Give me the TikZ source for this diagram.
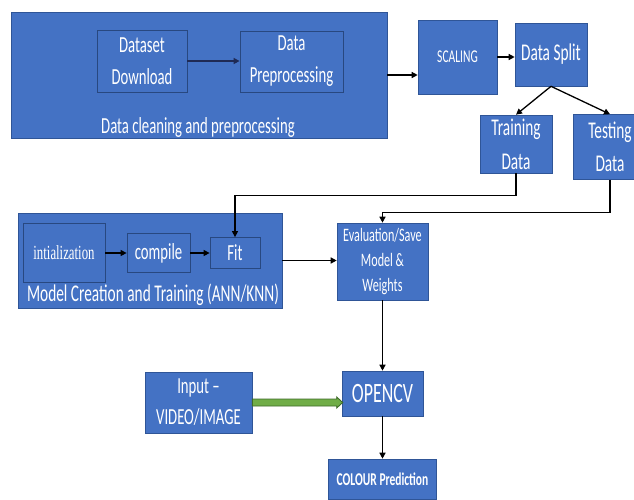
\documentclass[tikz,border=0pt]{standalone}
\usepackage{fontspec}
\setmainfont{Carlito}[FakeStretch=0.64]
\newfontfamily\tmsfont{Liberation Serif}[FakeStretch=0.64]
\usetikzlibrary{arrows.meta,calc}
\definecolor{boxblue}{HTML}{4472C4}
\definecolor{edgeblue}{HTML}{2F5597}
\definecolor{navy}{HTML}{1F2A55}
\definecolor{arrgreen}{HTML}{70AD47}
\definecolor{arrgreenedge}{HTML}{3F6B2A}
\begin{document}
\begin{tikzpicture}[x=1pt,y=-1pt,
  box/.style={fill=boxblue, draw=edgeblue, line width=0.6pt, text=white, inner sep=0pt, align=center},
  inbox/.style={box, draw=edgeblue!85!black, line width=0.8pt},
  fs/.style 2 args={font=\fontsize{#1}{#2}\selectfont},
  lbl/.style={text=white, inner sep=0pt},
  conn/.style={draw=black, line width=1.3pt, -{Triangle[length=6pt,width=6pt]}},
  navyconn/.style={draw=navy, line width=2pt, -{Triangle[length=6pt,width=6pt]}},
  greenarrow/.style={fill=arrgreen, draw=arrgreenedge, line width=0.9pt, line join=miter}
]
\useasboundingbox (0,0) rectangle (634,499);
\fill[white] (0,0) rectangle (634,499);

% Data cleaning group
\node[box, minimum width=376pt, minimum height=126pt] (g1) at (199,75) {};
\node[inbox, minimum width=90pt, minimum height=62pt, fs={23}{32}] (dd) at (142,61) {Dataset\\Download};
\node[inbox, minimum width=103pt, minimum height=61pt, fs={23}{32}] (dp) at (291.5,61.5) {\raisebox{-2pt}{Data}\\\raisebox{-2pt}{Preprocessing}};
\node[lbl, fs={23}{28}] (g1lbl) at (198,127) {Data cleaning and preprocessing};
\draw[navyconn] (dd.east) -- (dd.east -| dp.west);

% Scaling and split
\node[box, minimum width=79pt, minimum height=74pt, fs={18}{22}] (scl) at (457.5,57) {SCALING};
\draw[conn] (g1.east) -- (g1.east -| scl.west);
\node[box, minimum width=72pt, minimum height=63pt, fs={24}{30}] (ds) at (551,54.5) {Data Split};
\draw[conn] (scl.east) -- (scl.east -| ds.west);
\node[box, minimum width=72pt, minimum height=58pt, fs={24}{34}] (trn) at (516,144) {Training\\Data};
\node[box, minimum width=74pt, minimum height=65pt, fs={24}{33}] (tst) at (610,147) {Testing\\Data};
\draw[conn] (ds.south) -- (trn.north);
\draw[conn] (ds.south) -- (tst.north);

% Model group
\node[box, minimum width=264pt, minimum height=95pt] (g2) at (150,260.5) {};
\node[inbox, minimum width=82pt, minimum height=59pt, font={\tmsfont\fontsize{20}{24}\selectfont}] (ini) at (64,253) {intialization};
\node[inbox, minimum width=63pt, minimum height=39pt, fs={23}{28}] (cmp) at (158.5,253) {compile};
\node[inbox, minimum width=50pt, minimum height=31pt, fs={23}{28}] (fit) at (235,253) {Fit};
\node[lbl, fs={24}{28}] (g2lbl) at (153,295) {Model Creation and Training (ANN/KNN)};
\draw[conn] (ini) -- (cmp);
\draw[conn] (cmp) -- (fit);

% Evaluation
\node[box, minimum width=91pt, minimum height=77pt, fs={19}{25}] (ev) at (382.5,261.5) {Evaluation/Save\\Model \&\\Weights};
\draw[conn] (g2.east) -- (g2.east -| ev.west);
\draw[conn] (trn.south) -- ++(0,22) -| (fit.north);
\draw[conn] (tst.south) -- ++(0,33) -| (ev.north);

% OpenCV
\node[box, minimum width=81pt, minimum height=45pt, fs={28}{30}] (ocv) at (382.5,393.5) {OPENCV};
\draw[conn] (ev.south) -- (ocv.north);
\node[box, minimum width=107pt, minimum height=61pt, fs={23}{31}] (inp) at (198.5,402.5) {Input –\\VIDEO/IMAGE};
\draw[greenarrow] ($(inp.east)+(0,-3.5)$) -- ($(inp.east -| ocv.west)+(-5,-3.5)$) -- ($(inp.east -| ocv.west)+(-5,-5.5)$) -- ($(inp.east -| ocv.west)+(1,0)$) -- ($(inp.east -| ocv.west)+(-5,5.5)$) -- ($(inp.east -| ocv.west)+(-5,3.5)$) -- ($(inp.east)+(0,3.5)$) -- cycle;
\node[box, minimum width=108pt, minimum height=40pt, font={\fontsize{18}{22}\selectfont\bfseries}] (col) at (382.5,479) {COLOUR Prediction};
\draw[conn] (ocv.south) -- (col.north);
\end{tikzpicture}
\end{document}
